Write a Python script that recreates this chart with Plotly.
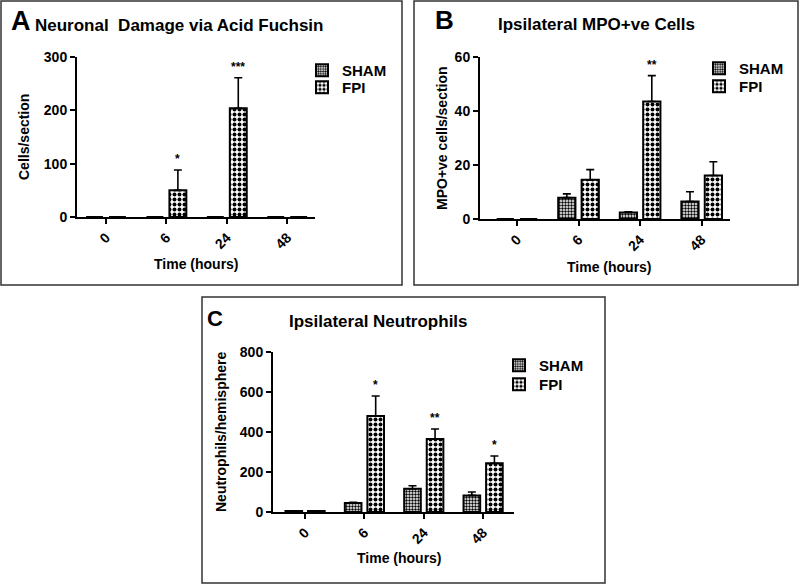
import plotly.graph_objects as go

W, H = 800, 585

# ---------------- data ----------------
time_labels = ["0", "6", "24", "48"]

a_sham = [0, 0, 0, 0]
a_sham_err = [0, 0, 0, 0]
a_fpi = [0, 50, 204, 0]
a_fpi_err = [0, 38, 57, 0]
a_stars = ["", "*", "***", ""]

b_sham = [0, 7.9, 2.4, 6.5]
b_sham_err = [0, 1.4, 0.3, 3.6]
b_fpi = [0, 14.5, 43.5, 16.1]
b_fpi_err = [0, 3.8, 9.6, 5.1]
b_stars = ["", "", "**", ""]

c_sham = [5, 45, 116, 83]
c_sham_err = [1, 4, 15, 17]
c_fpi = [5, 480, 365, 244]
c_fpi_err = [1, 100, 50, 36]
c_stars = ["", "*", "**", "*"]

# ---------------- helpers ----------------
FONT = "Liberation Sans, Arial, sans-serif"


def px(x):
    return x / W


def py(y):
    return 1 - y / H


xs = list(range(len(time_labels)))
BAR_W = 0.28
SHAM_OFF = -0.33
FPI_OFF = 0.05

sham_pattern = dict(shape=".", size=3, solidity=0.5, fgcolor="black", bgcolor="white")
fpi_pattern = dict(shape=".", size=5, solidity=0.5, fgcolor="black", bgcolor="white")

fig = go.Figure()


def add_panel(sham, sham_err, fpi, fpi_err, xa, ya, leg_sham, leg_fpi):
    fig.add_trace(go.Bar(
        x=xs, y=sham, name="SHAM", width=BAR_W, offset=SHAM_OFF,
        marker=dict(color="white", pattern=sham_pattern, line=dict(color="black", width=2)),
        error_y=dict(type="data", array=sham_err, arrayminus=[0] * 4, symmetric=False,
                     color="black", thickness=1.6, width=4),
        xaxis=xa, yaxis=ya, legend=leg_sham))
    fig.add_trace(go.Bar(
        x=xs, y=fpi, name="FPI", width=BAR_W, offset=FPI_OFF,
        marker=dict(color="white", pattern=fpi_pattern, line=dict(color="black", width=2)),
        error_y=dict(type="data", array=fpi_err, arrayminus=[0] * 4, symmetric=False,
                     color="black", thickness=1.6, width=4),
        xaxis=xa, yaxis=ya, legend=leg_fpi))


add_panel(a_sham, a_sham_err, a_fpi, a_fpi_err, "x", "y", "legend", "legend2")
add_panel(b_sham, b_sham_err, b_fpi, b_fpi_err, "x2", "y2", "legend3", "legend4")
add_panel(c_sham, c_sham_err, c_fpi, c_fpi_err, "x3", "y3", "legend5", "legend6")

tickfont = dict(family=FONT, size=14, color="black", weight="bold")

xcommon = dict(tickmode="array", tickvals=xs, ticktext=time_labels, tickangle=-45,
               showline=True, linewidth=2, linecolor="black", ticks="outside",
               ticklen=5, tickwidth=2, tickcolor="black", showgrid=False,
               zeroline=False, tickfont=tickfont, fixedrange=True, automargin=False)
ycommon = dict(showline=True, linewidth=2, linecolor="black", ticks="outside",
               ticklen=5, tickwidth=2, tickcolor="black", showgrid=False,
               zeroline=False, tickfont=tickfont, fixedrange=True, automargin=False)

legcommon = dict(font=dict(family=FONT, size=15, color="black", weight="bold"),
                 bgcolor="rgba(0,0,0,0)", borderwidth=0, traceorder="normal",
                 xanchor="left", yanchor="top", tracegroupgap=0)

LEG_OFF = 16  # px from legend top to first item centre


def leg(x, yc):
    return dict(legcommon, x=px(x), y=py(yc - LEG_OFF))


fig.update_layout(
    template="none",
    width=W, height=H, autosize=False,
    margin=dict(l=0, r=0, t=0, b=0, pad=0, autoexpand=False),
    paper_bgcolor="white", plot_bgcolor="white",
    barmode="overlay",
    xaxis=dict(xcommon, domain=[px(77), px(315)], range=[-0.48, 3.46], anchor="y"),
    yaxis=dict(ycommon, domain=[py(217), py(57)], range=[0, 300], dtick=100, anchor="x"),
    xaxis2=dict(xcommon, domain=[px(480), px(730)], range=[-0.6, 3.46], anchor="y2"),
    yaxis2=dict(ycommon, domain=[py(219), py(57)], range=[0, 60], dtick=20, anchor="x2"),
    xaxis3=dict(xcommon, domain=[px(273), px(514)], range=[-0.54, 3.52], anchor="y3"),
    yaxis3=dict(ycommon, domain=[py(512), py(352)], range=[0, 800], dtick=200, anchor="x3"),
    legend=leg(302, 70), legend2=leg(302, 87),
    legend3=leg(699, 68), legend4=leg(699, 86),
    legend5=leg(499, 365), legend6=leg(499, 384),
    showlegend=True,
)

# panel borders
for (x0, y0, x1, y1) in [(1, 1, 402, 285), (414, 1, 798, 285), (202, 297, 605, 583)]:
    fig.add_shape(type="rect", xref="paper", yref="paper",
                  x0=px(x0), x1=px(x1), y0=py(y1), y1=py(y0),
                  line=dict(color="#333333", width=1.5), fillcolor="rgba(0,0,0,0)")


def txt(x, y, s, size, angle=0, xanchor="center"):
    fig.add_annotation(xref="paper", yref="paper", x=px(x), y=py(y), text=s,
                       showarrow=False, textangle=angle, xanchor=xanchor, yanchor="middle",
                       font=dict(family=FONT, size=size, color="black", weight="bold"))


# panel letters and titles
txt(21, 21, "A", 27)
txt(179, 26, "Neuronal  Damage via Acid Fuchsin", 17)
txt(444, 20, "B", 26)
txt(596, 25, "Ipsilateral MPO+ve Cells", 17)
txt(215, 319, "C", 22)
txt(378, 321, "Ipsilateral Neutrophils", 17)

# axis titles
txt(24, 137, "Cells/section", 14, angle=-90)
txt(196, 264, "Time (hours)", 14)
txt(442, 138, "MPO+ve cells/section", 14, angle=-90)
txt(609, 267, "Time (hours)", 14)
txt(221, 432, "Neutrophils/hemisphere", 14, angle=-90)
txt(399, 558, "Time (hours)", 14)

# significance stars
for stars, vals, errs, xr, yr in [(a_stars, a_fpi, a_fpi_err, "x", "y"),
                                  (b_stars, b_fpi, b_fpi_err, "x2", "y2"),
                                  (c_stars, c_fpi, c_fpi_err, "x3", "y3")]:
    for i, s in enumerate(stars):
        if s:
            fig.add_annotation(xref=xr, yref=yr, x=xs[i] + FPI_OFF + BAR_W / 2,
                               y=vals[i] + errs[i], text=s, showarrow=False,
                               yanchor="bottom", yshift=2,
                               font=dict(family=FONT, size=12, color="black", weight="bold"))

fig.write_html("out.html", config={"displayModeBar": False},
               post_script="document.body.style.margin='0';document.body.style.overflow='hidden';")
